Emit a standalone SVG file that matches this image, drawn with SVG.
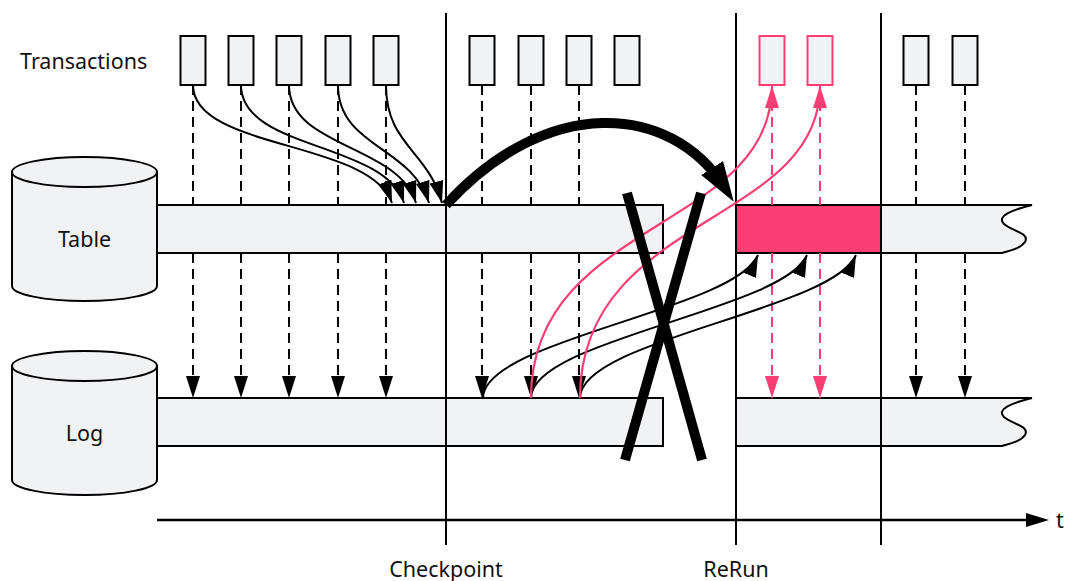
<svg xmlns="http://www.w3.org/2000/svg" width="1071" height="581" viewBox="0 0 1071 581">
  <style>
    .bg { fill: #ffffff; }
    .box { fill: #f1f2f4; stroke: #000; stroke-width: 2; }
    .box-pink { fill: #f1f2f4; stroke: #f93e74; stroke-width: 2; }
    .bar { fill: #f1f2f4; stroke: #000; stroke-width: 2; stroke-linejoin: miter; }
    .bar-pink { fill: #f93e74; stroke: #000; stroke-width: 2; }
    .vline { stroke: #000; stroke-width: 2; fill: none; }
    .dash { stroke: #000; stroke-width: 2; stroke-dasharray: 10 6; fill: none; }
    .dash-pink { stroke: #f93e74; stroke-width: 2; stroke-dasharray: 10 6; fill: none; }
    .curve { stroke: #000; stroke-width: 2; fill: none; }
    .curve-pink { stroke: #f93e74; stroke-width: 2.2; fill: none; }
    .label { font-family: "Noto Sans", "Liberation Sans", sans-serif; font-size: 21.5px; fill: #111; }
    .mid { text-anchor: middle; }
  </style>
  <defs>
    <marker id="arrow" markerUnits="userSpaceOnUse" markerWidth="22" markerHeight="14" viewBox="0 0 22 14" refX="22" refY="7" orient="auto">
      <path d="M0,0 L22,7 L0,14 Z" fill="#000"/>
    </marker>
    <marker id="arrow-pink" markerUnits="userSpaceOnUse" markerWidth="22" markerHeight="14" viewBox="0 0 22 14" refX="22" refY="7" orient="auto">
      <path d="M0,0 L22,7 L0,14 Z" fill="#f93e74"/>
    </marker>
    <marker id="arrow-big" markerUnits="userSpaceOnUse" markerWidth="40" markerHeight="26" viewBox="0 0 40 26" refX="22" refY="13" orient="auto">
      <path d="M0,0 L40,13 L0,26 Z" fill="#000"/>
    </marker>
    <marker id="arrow-axis" markerUnits="userSpaceOnUse" markerWidth="23" markerHeight="14" viewBox="0 0 23 14" refX="1" refY="7" orient="auto">
      <path d="M0,0 L23,7 L0,14 Z" fill="#000"/>
    </marker>
  </defs>

  <rect class="bg" x="0" y="0" width="1071" height="581"/>

  <!-- storage bars along the time axis -->
  <g id="table-bar">
    <rect class="bar" x="157" y="205" width="506" height="48"/>
    <rect class="bar-pink" x="736" y="205" width="145" height="48"/>
    <path class="bar" d="M881,205 L1032,205 C1012,210 996,216 1004,224 C1012,231 1030,233 1025,242 C1021,248 1012,250 1002,253 L881,253 Z"/>
  </g>
  <g id="log-bar">
    <rect class="bar" x="157" y="398" width="506" height="48"/>
    <path class="bar" d="M736,398 L1032,398 C1012,403 996,409 1004,417 C1012,424 1030,426 1025,435 C1021,441 1012,443 1002,446 L736,446 Z"/>
  </g>

  <!-- time markers -->
  <g id="time-lines">
    <line class="vline" x1="446" y1="13" x2="446" y2="545"/>
    <line class="vline" x1="736" y1="13" x2="736" y2="545"/>
    <line class="vline" x1="881" y1="13" x2="881" y2="545"/>
  </g>

  <!-- stores -->
  <g id="table">
    <path class="box" d="M12,172 V286 A72.5,15 0 0 0 157,286 V172 Z"/>
    <ellipse class="box" cx="84.5" cy="172" rx="72.5" ry="15"/>
    <text class="label mid" x="84.5" y="247">Table</text>
  </g>
  <g id="log">
    <path class="box" d="M12,366 V480 A72.5,15 0 0 0 157,480 V366 Z"/>
    <ellipse class="box" cx="84.5" cy="366" rx="72.5" ry="15"/>
    <text class="label mid" x="84.5" y="441">Log</text>
  </g>

  <!-- transactions -->
  <g id="transactions-label">
    <text class="label" x="20" y="69">Transactions</text>
  </g>
  <g id="tx1"><rect class="box" x="180.5" y="36" width="25" height="49"/></g>
  <g id="tx2"><rect class="box" x="228.5" y="36" width="25" height="49"/></g>
  <g id="tx3"><rect class="box" x="276.5" y="36" width="25" height="49"/></g>
  <g id="tx4"><rect class="box" x="325.5" y="36" width="25" height="49"/></g>
  <g id="tx5"><rect class="box" x="373.5" y="36" width="25" height="49"/></g>
  <g id="tx6"><rect class="box" x="469.5" y="36" width="25" height="49"/></g>
  <g id="tx7"><rect class="box" x="518.5" y="36" width="25" height="49"/></g>
  <g id="tx8"><rect class="box" x="566.5" y="36" width="25" height="49"/></g>
  <g id="tx9"><rect class="box" x="614.5" y="36" width="25" height="49"/></g>
  <g id="tx10"><rect class="box-pink" x="759.5" y="36" width="25" height="49"/></g>
  <g id="tx11"><rect class="box-pink" x="807.5" y="36" width="25" height="49"/></g>
  <g id="tx12"><rect class="box" x="903.5" y="36" width="25" height="49"/></g>
  <g id="tx13"><rect class="box" x="952.5" y="36" width="25" height="49"/></g>

  <!-- connectors -->
  <g id="connectors">
    <!-- writes into the table -->
    <path class="dash" d="M193,85 V205 M241,85 V205 M289,85 V205 M338,85 V205 M386,85 V205 M482,85 V205 M531,85 V205 M579,85 V205 M916,85 V205 M965,85 V205"/>
    <path class="dash-pink" d="M772,85 V205 M820,85 V205"/>
    <!-- log appends -->
    <line class="dash" x1="193" y1="253" x2="193" y2="398" marker-end="url(#arrow)"/>
    <line class="dash" x1="241" y1="253" x2="241" y2="398" marker-end="url(#arrow)"/>
    <line class="dash" x1="289" y1="253" x2="289" y2="398" marker-end="url(#arrow)"/>
    <line class="dash" x1="338" y1="253" x2="338" y2="398" marker-end="url(#arrow)"/>
    <line class="dash" x1="386" y1="253" x2="386" y2="398" marker-end="url(#arrow)"/>
    <line class="dash" x1="482" y1="253" x2="482" y2="398" marker-end="url(#arrow)"/>
    <line class="dash" x1="531" y1="253" x2="531" y2="398" marker-end="url(#arrow)"/>
    <line class="dash" x1="579" y1="253" x2="579" y2="398" marker-end="url(#arrow)"/>
    <line class="dash-pink" x1="772" y1="253" x2="772" y2="398" marker-end="url(#arrow-pink)"/>
    <line class="dash-pink" x1="820" y1="253" x2="820" y2="398" marker-end="url(#arrow-pink)"/>
    <line class="dash" x1="916" y1="253" x2="916" y2="398" marker-end="url(#arrow)"/>
    <line class="dash" x1="965" y1="253" x2="965" y2="398" marker-end="url(#arrow)"/>

    <!-- transactions folded into the checkpoint -->
    <path class="curve" d="M193,85 C193,150 370,140 392,203" marker-end="url(#arrow)"/>
    <path class="curve" d="M241,85 C241,150 385,142 404,203" marker-end="url(#arrow)"/>
    <path class="curve" d="M289,85 C289,148 398,144 416,203" marker-end="url(#arrow)"/>
    <path class="curve" d="M338,85 C338,147 412,146 429,203" marker-end="url(#arrow)"/>
    <path class="curve" d="M386,85 C386,145 428,150 442,203" marker-end="url(#arrow)"/>

    <!-- log replay into the table -->
    <path class="curve" d="M483,398 C483,340 735,310 758,255" marker-end="url(#arrow)"/>
    <path class="curve" d="M531,398 C531,340 784,310 807,255" marker-end="url(#arrow)"/>
    <path class="curve" d="M580,398 C580,340 833,310 856,255" marker-end="url(#arrow)"/>

    <!-- log replay back to the transactions -->
    <path class="curve-pink" d="M531,398 C531,220 772,230 772,86" marker-end="url(#arrow-pink)"/>
    <path class="curve-pink" d="M580,398 C580,215 820,225 820,86" marker-end="url(#arrow-pink)"/>

    <!-- checkpoint jump -->
    <path d="M446,205 C546,95 670,102.5 724,186.5" fill="none" stroke="#000" stroke-width="10" marker-end="url(#arrow-big)"/>

    <!-- time axis -->
    <line x1="157" y1="520" x2="1027" y2="520" stroke="#000" stroke-width="2.5" marker-end="url(#arrow-axis)"/>
  </g>

  <!-- crossed-out region -->
  <g id="cancel">
    <line x1="627" y1="193" x2="702" y2="460" stroke="#000" stroke-width="10"/>
    <line x1="701" y1="193" x2="625" y2="460" stroke="#000" stroke-width="10"/>
  </g>

  <!-- axis labels -->
  <g id="axis-labels">
    <text class="label" x="1056" y="528">t</text>
    <text class="label mid" x="446" y="577">Checkpoint</text>
    <text class="label mid" x="736" y="577">ReRun</text>
  </g>
</svg>
